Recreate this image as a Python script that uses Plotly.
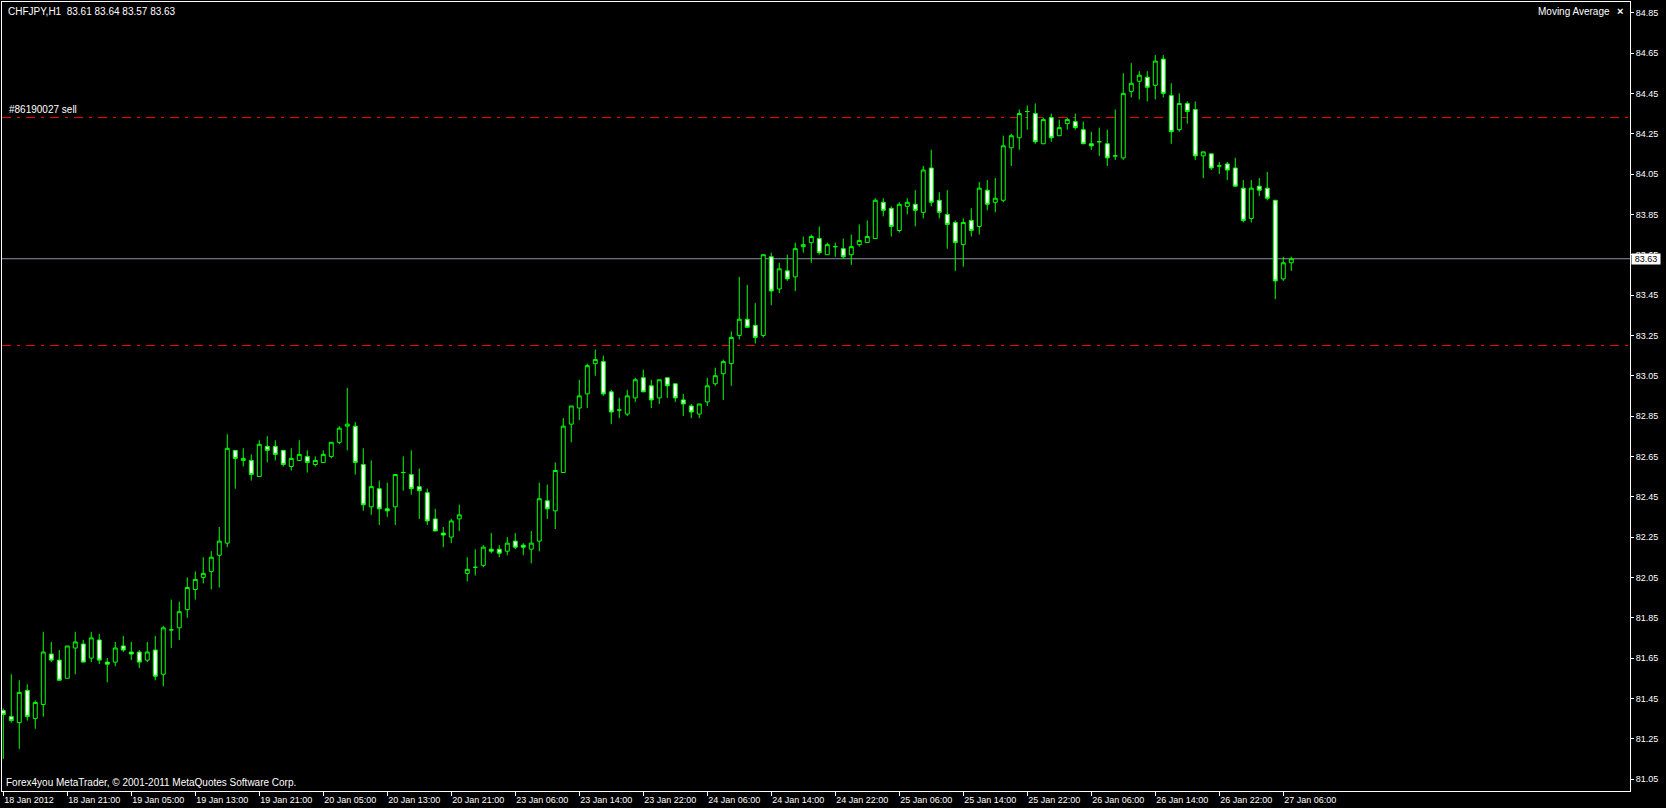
import plotly.graph_objects as go

# ---------------- data ----------------
bar_index = list(range(162))

open_ = [81.39, 81.36, 81.33, 81.49, 81.35, 81.42, 81.67, 81.64, 81.55, 81.70,
         81.72, 81.65, 81.74, 81.63, 81.63, 81.71, 81.68, 81.68, 81.64, 81.69,
         81.57, 81.79, 81.80, 81.89, 81.99, 82.05, 82.08, 82.16, 82.22, 82.68,
         82.63, 82.63, 82.55, 82.70, 82.70, 82.68, 82.60, 82.63, 82.65, 82.61,
         82.62, 82.65, 82.72, 82.80, 82.80, 82.61, 82.40, 82.49, 82.39, 82.40,
         82.57, 82.56, 82.50, 82.47, 82.34, 82.27, 82.25, 82.34, 82.07, 82.10,
         82.11, 82.19, 82.19, 82.18, 82.23, 82.21, 82.19, 82.23, 82.43, 82.38,
         82.57, 82.81, 82.89, 82.96, 83.11, 83.12, 82.97, 82.88, 82.86, 82.94,
         83.04, 83.00, 82.94, 83.04, 83.01, 82.93, 82.90, 82.86, 82.92, 83.01,
         83.06, 83.11, 83.25, 83.33, 83.30, 83.25, 83.64, 83.48, 83.57, 83.54,
         83.69, 83.71, 83.73, 83.65, 83.69, 83.68, 83.65, 83.70, 83.71, 83.73,
         83.91, 83.88, 83.77, 83.89, 83.90, 83.86, 84.08, 83.92, 83.85, 83.81,
         83.70, 83.82, 83.79, 83.97, 83.91, 83.92, 84.18, 84.23, 84.36, 84.35,
         84.20, 84.33, 84.24, 84.30, 84.31, 84.27, 84.20, 84.21, 84.20, 84.14,
         84.13, 84.46, 84.51, 84.53, 84.49, 84.62, 84.44, 84.27, 84.40, 84.37,
         84.14, 84.15, 84.09, 84.10, 84.08, 83.98, 83.83, 83.99, 83.98, 83.92,
         83.53, 83.61]

high = [81.40, 81.57, 81.54, 81.52, 81.44, 81.78, 81.73, 81.69, 81.71, 81.78,
        81.74, 81.78, 81.77, 81.65, 81.73, 81.76, 81.73, 81.69, 81.73, 81.76,
        81.81, 81.94, 81.93, 82.05, 82.08, 82.15, 82.18, 82.30, 82.76, 82.68,
        82.69, 82.66, 82.73, 82.75, 82.73, 82.68, 82.69, 82.73, 82.68, 82.65,
        82.68, 82.72, 82.80, 82.99, 82.82, 82.69, 82.63, 82.53, 82.52, 82.56,
        82.65, 82.68, 82.59, 82.49, 82.39, 82.30, 82.34, 82.41, 82.15, 82.19,
        82.21, 82.27, 82.21, 82.25, 82.27, 82.22, 82.28, 82.52, 82.51, 82.62,
        82.84, 82.90, 83.03, 83.11, 83.18, 83.15, 82.98, 82.94, 82.98, 83.04,
        83.08, 83.03, 83.03, 83.04, 83.01, 82.96, 82.91, 82.91, 83.04, 83.09,
        83.13, 83.27, 83.54, 83.50, 83.41, 83.65, 83.66, 83.61, 83.65, 83.71,
        83.74, 83.75, 83.79, 83.71, 83.71, 83.73, 83.75, 83.80, 83.82, 83.93,
        83.93, 83.89, 83.91, 83.93, 83.97, 84.09, 84.17, 83.96, 83.97, 83.82,
        83.83, 83.88, 84.01, 84.02, 84.03, 84.24, 84.25, 84.37, 84.39, 84.40,
        84.33, 84.35, 84.32, 84.33, 84.35, 84.31, 84.26, 84.28, 84.27, 84.37,
        84.55, 84.60, 84.56, 84.56, 84.64, 84.64, 84.50, 84.45, 84.41, 84.41,
        84.16, 84.15, 84.11, 84.11, 84.13, 84.02, 84.02, 84.03, 84.06, 83.92,
        83.64, 83.64]

low = [81.15, 81.33, 81.20, 81.34, 81.30, 81.36, 81.63, 81.54, 81.55, 81.57,
       81.63, 81.63, 81.62, 81.53, 81.61, 81.68, 81.64, 81.60, 81.63, 81.54,
       81.51, 81.70, 81.74, 81.85, 81.94, 82.02, 81.99, 82.00, 82.20, 82.49,
       82.60, 82.53, 82.55, 82.62, 82.63, 82.60, 82.58, 82.63, 82.57, 82.60,
       82.62, 82.64, 82.71, 82.68, 82.56, 82.38, 82.36, 82.31, 82.35, 82.31,
       82.48, 82.46, 82.34, 82.31, 82.28, 82.20, 82.22, 82.28, 82.03, 82.06,
       82.10, 82.17, 82.15, 82.16, 82.19, 82.16, 82.12, 82.18, 82.34, 82.29,
       82.57, 82.72, 82.83, 82.89, 83.05, 82.95, 82.81, 82.84, 82.85, 82.92,
       82.97, 82.89, 82.91, 82.94, 82.92, 82.85, 82.84, 82.84, 82.90, 83.00,
       82.93, 83.00, 83.23, 83.29, 83.21, 83.24, 83.40, 83.46, 83.52, 83.47,
       83.66, 83.61, 83.65, 83.65, 83.64, 83.63, 83.60, 83.69, 83.71, 83.73,
       83.84, 83.74, 83.76, 83.85, 83.79, 83.83, 83.89, 83.83, 83.68, 83.57,
       83.59, 83.74, 83.75, 83.87, 83.86, 83.91, 84.09, 84.17, 84.27, 84.20,
       84.20, 84.21, 84.24, 84.27, 84.27, 84.20, 84.17, 84.14, 84.09, 84.12,
       84.12, 84.43, 84.42, 84.41, 84.42, 84.43, 84.20, 84.26, 84.30, 84.12,
       84.03, 84.07, 84.05, 84.02, 83.99, 83.81, 83.81, 83.94, 83.92, 83.43,
       83.52, 83.57]

close = [81.37, 81.34, 81.48, 81.36, 81.43, 81.68, 81.64, 81.54, 81.71, 81.73,
         81.63, 81.75, 81.64, 81.62, 81.70, 81.69, 81.67, 81.63, 81.68, 81.56,
         81.80, 81.79, 81.88, 82.00, 82.04, 82.07, 82.15, 82.23, 82.69, 82.64,
         82.64, 82.56, 82.71, 82.68, 82.66, 82.61, 82.64, 82.66, 82.62, 82.63,
         82.66, 82.72, 82.79, 82.81, 82.62, 82.41, 82.50, 82.39, 82.38, 82.56,
         82.57, 82.49, 82.48, 82.33, 82.28, 82.26, 82.33, 82.36, 82.09, 82.10,
         82.20, 82.18, 82.17, 82.22, 82.20, 82.20, 82.22, 82.44, 82.39, 82.58,
         82.80, 82.90, 82.95, 83.10, 83.13, 82.96, 82.87, 82.88, 82.95, 83.03,
         82.97, 82.93, 83.03, 83.00, 82.94, 82.91, 82.87, 82.91, 83.00, 83.05,
         83.12, 83.24, 83.33, 83.29, 83.24, 83.65, 83.47, 83.58, 83.53, 83.68,
         83.70, 83.74, 83.66, 83.70, 83.69, 83.64, 83.69, 83.72, 83.74, 83.92,
         83.87, 83.79, 83.90, 83.91, 83.87, 84.07, 83.91, 83.86, 83.80, 83.71,
         83.81, 83.77, 83.98, 83.90, 83.93, 84.19, 84.24, 84.35, 84.36, 84.21,
         84.32, 84.23, 84.28, 84.32, 84.28, 84.20, 84.19, 84.21, 84.13, 84.14,
         84.45, 84.50, 84.54, 84.48, 84.61, 84.45, 84.26, 84.40, 84.36, 84.14,
         84.16, 84.08, 84.09, 84.07, 83.99, 83.82, 83.98, 83.97, 83.93, 83.52,
         83.61, 83.63]

time_tick_bars = [0, 8, 16, 24, 32, 40, 48, 56, 64, 72, 80,
                  88, 96, 104, 112, 120, 128, 136, 144, 152, 160]
time_tick_labels = ["18 Jan 2012", "18 Jan 21:00", "19 Jan 05:00", "19 Jan 13:00",
                    "19 Jan 21:00", "20 Jan 05:00", "20 Jan 13:00", "20 Jan 21:00",
                    "23 Jan 06:00", "23 Jan 14:00", "23 Jan 22:00", "24 Jan 06:00",
                    "24 Jan 14:00", "24 Jan 22:00", "25 Jan 06:00", "25 Jan 14:00",
                    "25 Jan 22:00", "26 Jan 06:00", "26 Jan 14:00", "26 Jan 22:00",
                    "27 Jan 06:00"]

price_ticks = [81.05, 81.25, 81.45, 81.65, 81.85, 82.05, 82.25, 82.45, 82.65, 82.85,
               83.05, 83.25, 83.45, 83.65, 83.85, 84.05, 84.25, 84.45, 84.65, 84.85]

order_levels = [84.33, 83.20]
bid_price = 83.63
title_text = "CHFJPY,H1\u00a0\u00a083.61 83.64 83.57 83.63"
order_label = "#86190027 sell"
indicator_label = "Moving Average"
copyright_text = "Forex4you MetaTrader, \u00a9 2001-2011 MetaQuotes Software Corp."

# ---------------- figure ----------------
GREEN = "#00FF00"
FONT = "Liberation Sans"

fig = go.Figure(go.Candlestick(
    x=bar_index, open=open_, high=high, low=low, close=close,
    increasing=dict(line=dict(color=GREEN, width=1), fillcolor="#000000"),
    decreasing=dict(line=dict(color=GREEN, width=1), fillcolor="#FFFFFF"),
    whiskerwidth=0, hoverinfo="skip", showlegend=False,
))

for lvl in order_levels:
    fig.add_shape(type="line", xref="paper", x0=0, x1=1, yref="y", y0=lvl, y1=lvl,
                  line=dict(color="#FF0000", width=1, dash="9px,6px,3px,6px"), layer="below")

fig.add_shape(type="line", xref="paper", x0=0, x1=1, yref="y", y0=bid_price, y1=bid_price,
              line=dict(color="#8995a3", width=1), layer="below")

annotations = [
    dict(text=title_text, xref="paper", yref="paper", x=0, y=1, xanchor="left", yanchor="top",
         xshift=4, yshift=-2, showarrow=False, font=dict(family=FONT, size=10, color="white")),
    dict(text=order_label, xref="paper", yref="y", x=0, y=order_levels[0], xanchor="left",
         yanchor="bottom", xshift=5, yshift=1, showarrow=False,
         font=dict(family=FONT, size=10, color="white")),
    dict(text=indicator_label, xref="paper", yref="paper", x=1, y=1, xanchor="right", yanchor="top",
         xshift=-18, yshift=-2, showarrow=False, font=dict(family=FONT, size=10, color="white")),
    dict(text="<b>\u00d7</b>", xref="paper", yref="paper", x=1, y=1, xanchor="right", yanchor="top",
         xshift=-5, yshift=-1, showarrow=False, font=dict(family=FONT, size=11, color="white")),
    dict(text=copyright_text, xref="paper", yref="paper", x=0, y=0, xanchor="left", yanchor="bottom",
         xshift=2, yshift=1, showarrow=False, font=dict(family=FONT, size=10, color="white")),
    dict(text=f"{bid_price:.2f}", xref="paper", yref="y", x=1, y=bid_price, xanchor="left",
         yanchor="middle", xshift=1, showarrow=False, bgcolor="white", borderpad=0,
         width=28, height=10, font=dict(family=FONT, size=9, color="black")),
]

fig.update_layout(
    width=1666, height=808,
    margin=dict(l=2, r=36, t=2, b=17, pad=0),
    paper_bgcolor="#000000", plot_bgcolor="#000000",
    font=dict(family=FONT, size=9, color="white"),
    showlegend=False,
    annotations=annotations,
    xaxis=dict(
        range=[-0.16, 203.34], rangeslider=dict(visible=False),
        showgrid=False, zeroline=False, fixedrange=True,
        tickmode="array", tickvals=time_tick_bars, ticktext=time_tick_labels,
        ticks="outside", ticklen=4, tickwidth=1, tickcolor="white",
        ticklabelposition="outside right",
        tickfont=dict(family=FONT, size=9, color="white"),
        showline=True, linecolor="white", linewidth=1, mirror=True,
    ),
    yaxis=dict(
        range=[80.991, 84.903], side="right",
        showgrid=False, zeroline=False, fixedrange=True,
        tickmode="array", tickvals=price_ticks, ticktext=[f"{v:.2f}" for v in price_ticks],
        ticks="outside", ticklen=3, tickwidth=1, tickcolor="white",
        tickfont=dict(family=FONT, size=9, color="white"),
        showline=True, linecolor="white", linewidth=1, mirror=True,
    ),
)

fig.write_html("out.html", config={"displayModeBar": False},
               post_script="document.body.style.margin='0px';")
